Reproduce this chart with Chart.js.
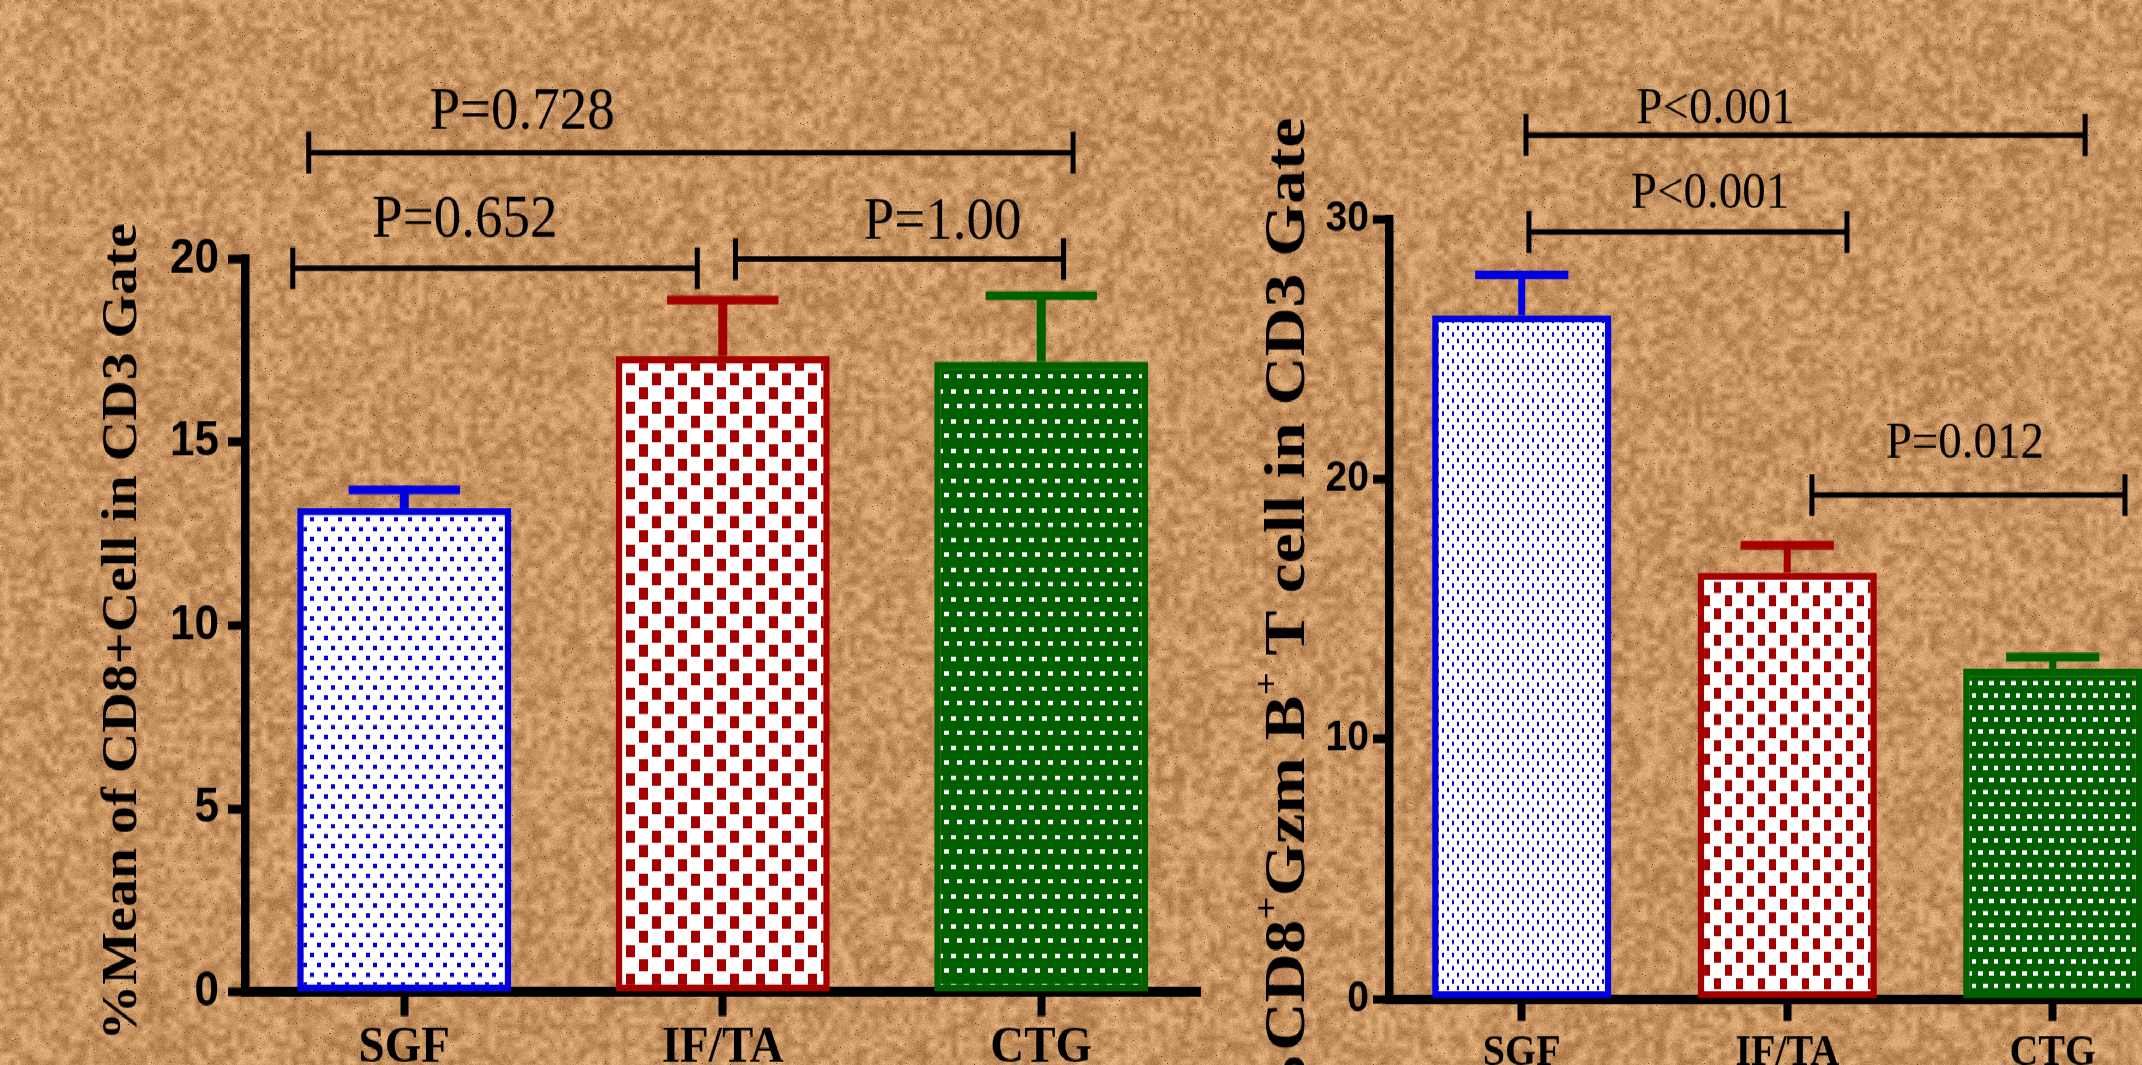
<!DOCTYPE html>
<html><head><meta charset="utf-8">
<script src="https://cdn.jsdelivr.net/npm/chart.js@4.4.1/dist/chart.umd.min.js"></script>
<style>
html,body{margin:0;padding:0;width:2142px;height:1065px;overflow:hidden;background:#c8965f;}
#bg{position:absolute;left:0;top:0;}
#stage{position:absolute;left:0;top:0;width:2142px;height:968px;transform:scaleY(1.10021);transform-origin:0 0;}
#leftBox{position:absolute;left:0;top:0;width:1250px;height:968px;}
#rightBox{position:absolute;left:1250px;top:0;width:1000px;height:968px;}
</style></head><body>
<canvas id="bg" width="2142" height="1065"></canvas>
<div id="stage"><div id="leftBox"><canvas id="c1"></canvas></div><div id="rightBox"><canvas id="c2"></canvas></div></div>
<script>
// ---------- data ----------
const categories = ['SGF', 'IF/TA', 'CTG'];

const cd8Means  = [13.2, 17.35, 17.2];
const cd8Errors = [0.5, 1.53, 1.8];
const cd8Ticks  = [0, 5, 10, 15, 20];
const cd8PLabels    = ['P=0.728', 'P=0.652', 'P=1.00'];
const cd8PFrom      = [-0.30, -0.35, 1.04];
const cd8PTo        = [2.10, 0.92, 2.07];
const cd8PLevel     = [22.9, 19.75, 20.0];
const cd8PTextAt    = [0.37, 0.19, 1.69];
const cd8PTextLevel = [23.55, 20.6, 20.55];

const gzmMeans  = [26.3, 16.4, 12.7];
const gzmErrors = [1.55, 1.05, 0.45];
const gzmTicks  = [0, 10, 20, 30];
const gzmPLabels    = ['P<0.001', 'P<0.001', 'P=0.012'];
const gzmPFrom      = [0.016, 0.027, 1.093];
const gzmPTo        = [2.122, 1.225, 2.272];
const gzmPLevel     = [33.23, 29.5, 19.38];
const gzmPTextAt    = [0.73, 0.709, 1.669];
const gzmPTextLevel = [33.69, 30.42, 20.8];

const cd8TitleParts = [{t: '%Mean of CD8+Cell in CD3 Gate'}];
const gzmTitleParts = [{t: '%CD8'}, {t: '+', sup: true}, {t: 'Gzm B'}, {t: '+', sup: true}, {t: ' T cell in CD3 Gate'}];

// ---------- background texture (deterministic) ----------
(function(){
  const c = document.getElementById('bg'); const ctx = c.getContext('2d');
  const W = c.width, H = c.height; const img = ctx.createImageData(W, H); const d = img.data;
  function hash(x, y){ let n = (Math.imul(x, 374761393) + Math.imul(y, 668265263)) | 0; n = Math.imul(n ^ (n >>> 13), 1274126177); n = n ^ (n >>> 16); return (n >>> 0) / 4294967296; }
  const cell = 6, gw = Math.ceil(W / cell) + 2, gh = Math.ceil(H / cell) + 2; const g = new Float32Array(gw * gh);
  for (let j = 0; j < gh; j++) for (let i = 0; i < gw; i++) g[j * gw + i] = hash(i + 17, j + 31);
  const dark = [165, 112, 66], light = [232, 182, 128];
  for (let y = 0; y < H; y++) {
    const fy = y / cell, j = Math.floor(fy), ty = fy - j;
    for (let x = 0; x < W; x++) {
      const fx = x / cell, i = Math.floor(fx), tx = fx - i;
      const a = g[j * gw + i], b = g[j * gw + i + 1], cc = g[(j + 1) * gw + i], dd = g[(j + 1) * gw + i + 1];
      const v1 = (a * (1 - tx) + b * tx) * (1 - ty) + (cc * (1 - tx) + dd * tx) * ty;
      const v2 = hash(x + 9999, y + 77);
      let v = 0.7 * v1 + 0.3 * v2; v = Math.min(1, Math.max(0, (v - 0.5) * 1.3 + 0.52));
      let r = dark[0] + (light[0] - dark[0]) * v, gg = dark[1] + (light[1] - dark[1]) * v, bb = dark[2] + (light[2] - dark[2]) * v;
      if (hash(x * 7 + 3, y * 5 + 1) > 0.997) { r = 110; gg = 66; bb = 45; }
      const k = (y * W + x) * 4; d[k] = r; d[k + 1] = gg; d[k + 2] = bb; d[k + 3] = 255;
    }
  }
  ctx.putImageData(img, 0, 0);
})();

// ---------- fill patterns ----------
const patCtx = document.createElement('canvas').getContext('2d');
function makePattern(w, h, bg, fg, rects){
  const c = document.createElement('canvas'); c.width = w; c.height = h; const x = c.getContext('2d');
  x.fillStyle = bg; x.fillRect(0, 0, w, h); x.fillStyle = fg; rects.forEach(r => x.fillRect(r[0], r[1], r[2], r[3]));
  return patCtx.createPattern(c, 'repeat');
}
const BLUE = '#0000e0', RED = '#a50000', GREEN = '#006000';
const leftFills = [
  makePattern(14, 18, '#ffffff', BLUE, [[2,2,4,4],[9,11,4,4]]),
  makePattern(26, 26, '#ffffff', RED, [[2,1,9,11],[15,14,9,11]]),
  makePattern(26, 27, GREEN, '#ffffff', [[2,3,5,4],[15,3,5,4],[8,16,5,4],[21,16,5,4]])
];
const rightFills = [
  makePattern(10, 12, '#ffffff', BLUE, [[2,2,2,4],[7,8,2,4]]),
  makePattern(22, 24, '#ffffff', RED, [[2,1,7,10],[13,13,7,10]]),
  makePattern(22, 22, GREEN, '#ffffff', [[2,3,5,4],[13,3,5,4],[7,14,5,4],[18,14,5,4]])
];

// ---------- plugins ----------
const errorBarPlugin = { id: 'errbars', afterDatasetsDraw(chart, args, o){
  const meta = chart.getDatasetMeta(0), ys = chart.scales.y, ctx = chart.ctx;
  meta.data.forEach((bar, i) => {
    const x = bar.x, w = bar.width;
    const yTop = ys.getPixelForValue(o.means[i]), yEnd = ys.getPixelForValue(o.means[i] + o.errors[i]);
    ctx.save(); ctx.fillStyle = o.colors[i];
    ctx.fillRect(x - o.stem / 2, yEnd, o.stem, yTop - yEnd);
    const cw = w * o.capFrac; ctx.fillRect(x - cw / 2, yEnd - o.capH / 2, cw, o.capH);
    ctx.restore();
  });
}};
const bracketPlugin = { id: 'brackets', afterDraw(chart, args, o){
  const xs = chart.scales.x, ys = chart.scales.y, ctx = chart.ctx;
  ctx.save(); ctx.strokeStyle = '#000'; ctx.fillStyle = '#000'; ctx.lineWidth = o.lineWidth; ctx.lineCap = 'butt';
  o.labels.forEach((t, i) => {
    const x1 = xs.getPixelForValue(o.from[i]), x2 = xs.getPixelForValue(o.to[i]), y = ys.getPixelForValue(o.level[i]);
    ctx.beginPath(); ctx.moveTo(x1, y); ctx.lineTo(x2, y);
    ctx.moveTo(x1, y - o.tickHalf); ctx.lineTo(x1, y + o.tickHalf);
    ctx.moveTo(x2, y - o.tickHalf); ctx.lineTo(x2, y + o.tickHalf); ctx.stroke();
    ctx.font = o.font; ctx.textAlign = 'center'; ctx.textBaseline = 'alphabetic';
    ctx.fillText(t, xs.getPixelForValue(o.textAt[i]), ys.getPixelForValue(o.textLevel[i]));
  });
  ctx.restore();
}};
const yTitlePlugin = { id: 'ytitle', afterDraw(chart, args, o){
  const ctx = chart.ctx; ctx.save(); ctx.translate(o.x, o.y); ctx.rotate(-Math.PI / 2);
  const fam = '"Liberation Serif", "Times New Roman", serif';
  let total = 0;
  o.parts.forEach(p => { ctx.font = 'bold ' + (p.sup ? o.size * 0.6 : o.size) + 'px ' + fam; p.w = ctx.measureText(p.t).width; total += p.w; });
  ctx.scale(o.length / total, 1);
  let x = -total / 2; ctx.fillStyle = '#000'; ctx.textBaseline = 'middle'; ctx.textAlign = 'left';
  o.parts.forEach(p => { ctx.font = 'bold ' + (p.sup ? o.size * 0.6 : o.size) + 'px ' + fam; ctx.fillText(p.t, x, p.sup ? -o.size * 0.38 : 0); x += p.w; });
  ctx.restore();
}};

// ---------- chart factory ----------
function buildChart(id, s){
  return new Chart(document.getElementById(id), {
    type: 'bar',
    data: { labels: categories, datasets: [{ data: s.means, backgroundColor: s.fills, borderColor: [BLUE, RED, GREEN],
      borderWidth: 6.5, borderSkipped: false, barPercentage: s.barPct, categoryPercentage: 1 }] },
    options: {
      responsive: true, maintainAspectRatio: false, animation: false, events: [],
      layout: { padding: s.padding },
      plugins: { legend: { display: false }, tooltip: { enabled: false },
        errbars: { means: s.means, errors: s.errors, colors: [BLUE, RED, GREEN], stem: s.stem, capH: 8, capFrac: 0.52 },
        brackets: s.brackets, ytitle: s.title },
      scales: {
        x: { offset: true,
          grid: { display: true, drawOnChartArea: false, drawTicks: true, tickLength: s.xTickLen, tickWidth: 8, tickColor: '#000', offset: false, color: '#000' },
          border: { display: true, width: 9, color: '#000' },
          ticks: { font: { family: '"Liberation Serif", "Times New Roman", serif', size: s.xFont, weight: 'bold' }, color: '#000', padding: s.xPad, maxRotation: 0, autoSkip: false },
          afterFit(sc){ sc.height = s.xHeight; } },
        y: { min: s.ticks[0], max: s.ticks[s.ticks.length - 1],
          afterBuildTicks(sc){ sc.ticks = s.ticks.map(v => ({ value: v })); },
          grid: { display: true, drawOnChartArea: false, drawTicks: true, tickLength: s.yTickLen, tickWidth: 8, tickColor: '#000', color: '#000' },
          border: { display: true, width: 8.5, color: '#000' },
          ticks: { font: { family: '"Liberation Sans", Arial, sans-serif', size: s.yFont, weight: 'bold' }, color: '#000', padding: s.yPad },
          afterFit(sc){ sc.width = s.yWidth; } }
      }
    },
    plugins: [errorBarPlugin, bracketPlugin, yTitlePlugin]
  });
}

buildChart('c1', {
  means: cd8Means, errors: cd8Errors, ticks: cd8Ticks, fills: leftFills, barPct: 0.672, stem: 9,
  padding: { top: 235.4, right: 49.5, bottom: 0, left: 0 }, yWidth: 245, xHeight: 66.3,
  xTickLen: 22, yTickLen: 17, xFont: 47, yFont: 44, xPad: 1, yPad: 9,
  brackets: { labels: cd8PLabels, from: cd8PFrom, to: cd8PTo, level: cd8PLevel, textAt: cd8PTextAt, textLevel: cd8PTextLevel,
    lineWidth: 5, tickHalf: 19, font: '55px "Liberation Serif", "Times New Roman", serif' },
  title: { parts: cd8TitleParts, x: 123, y: 574.5, size: 50, length: 743 }
});
buildChart('c2', {
  means: gzmMeans, errors: gzmErrors, ticks: gzmTicks, fills: rightFills, barPct: 0.675, stem: 7,
  padding: { top: 199.1, right: 64.5, bottom: 0, left: 0 }, yWidth: 139, xHeight: 60,
  xTickLen: 20, yTickLen: 16, xFont: 40, yFont: 39, xPad: 6, yPad: 4,
  brackets: { labels: gzmPLabels, from: gzmPFrom, to: gzmPTo, level: gzmPLevel, textAt: gzmPTextAt, textLevel: gzmPTextLevel,
    lineWidth: 5, tickHalf: 19, font: '47px "Liberation Serif", "Times New Roman", serif' },
  title: { parts: gzmTitleParts, x: 40, y: 562, size: 56, length: 910 }
});
</script>
</body></html>
